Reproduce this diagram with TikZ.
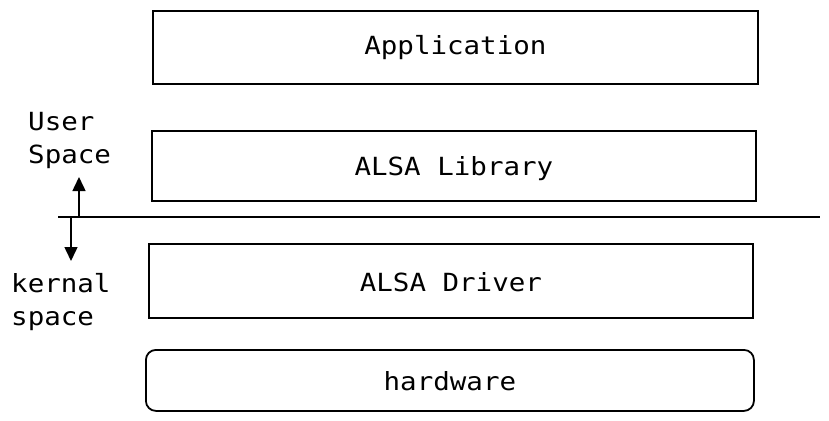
\documentclass[tikz,border=0pt]{standalone}
\usepackage{fontspec}
\setmonofont[FakeStretch=1.1]{DejaVu Sans Mono}
\usetikzlibrary{arrows.meta}
\begin{document}
\begin{tikzpicture}[x=1pt,y=-1pt,
  every node/.style={font=\ttfamily\fontsize{25}{33}\selectfont},
  layer/.style={draw, line width=1.8pt, inner sep=0pt, anchor=north west},
  lbl/.style={align=left, inner sep=0pt, anchor=base west},
  sep/.style={line width=1.6pt},
  arr/.style={line width=1.5pt, -{Triangle[length=14pt,width=13pt]}}]
\useasboundingbox (0,0) rectangle (829,420);
\node[layer, minimum width=605pt, minimum height=73pt] (app) at (152,10) {};
\node at (app.center) {Application};
\node[layer, minimum width=604pt, minimum height=70pt] (lib) at (151,130) {};
\node[yshift=-3pt] at (lib.center) {ALSA Library};
\node[layer, minimum width=604pt, minimum height=74pt] (drv) at (148,243) {};
\node[yshift=-1pt] at (drv.center) {ALSA Driver};
\node[layer, rounded corners=10pt, minimum width=608pt, minimum height=61pt] (hw) at (145,349) {};
\node[yshift=-1pt] at (hw.center) {hardware};
\node[lbl] (user) at (28,163) {User\\Space};
\node[lbl] (kern) at (11,325) {kernal\\space};
\coordinate (ls) at (58,217);
\coordinate (le) at (820,217);
\draw[sep] (ls) -- (le);
\coordinate (ua) at (79,216);
\coordinate (ub) at (79,177);
\coordinate (da) at (71,218);
\coordinate (db) at (71,261);
\draw[arr] (ua) -- (ub);
\draw[arr] (da) -- (db);
\end{tikzpicture}
\end{document}
